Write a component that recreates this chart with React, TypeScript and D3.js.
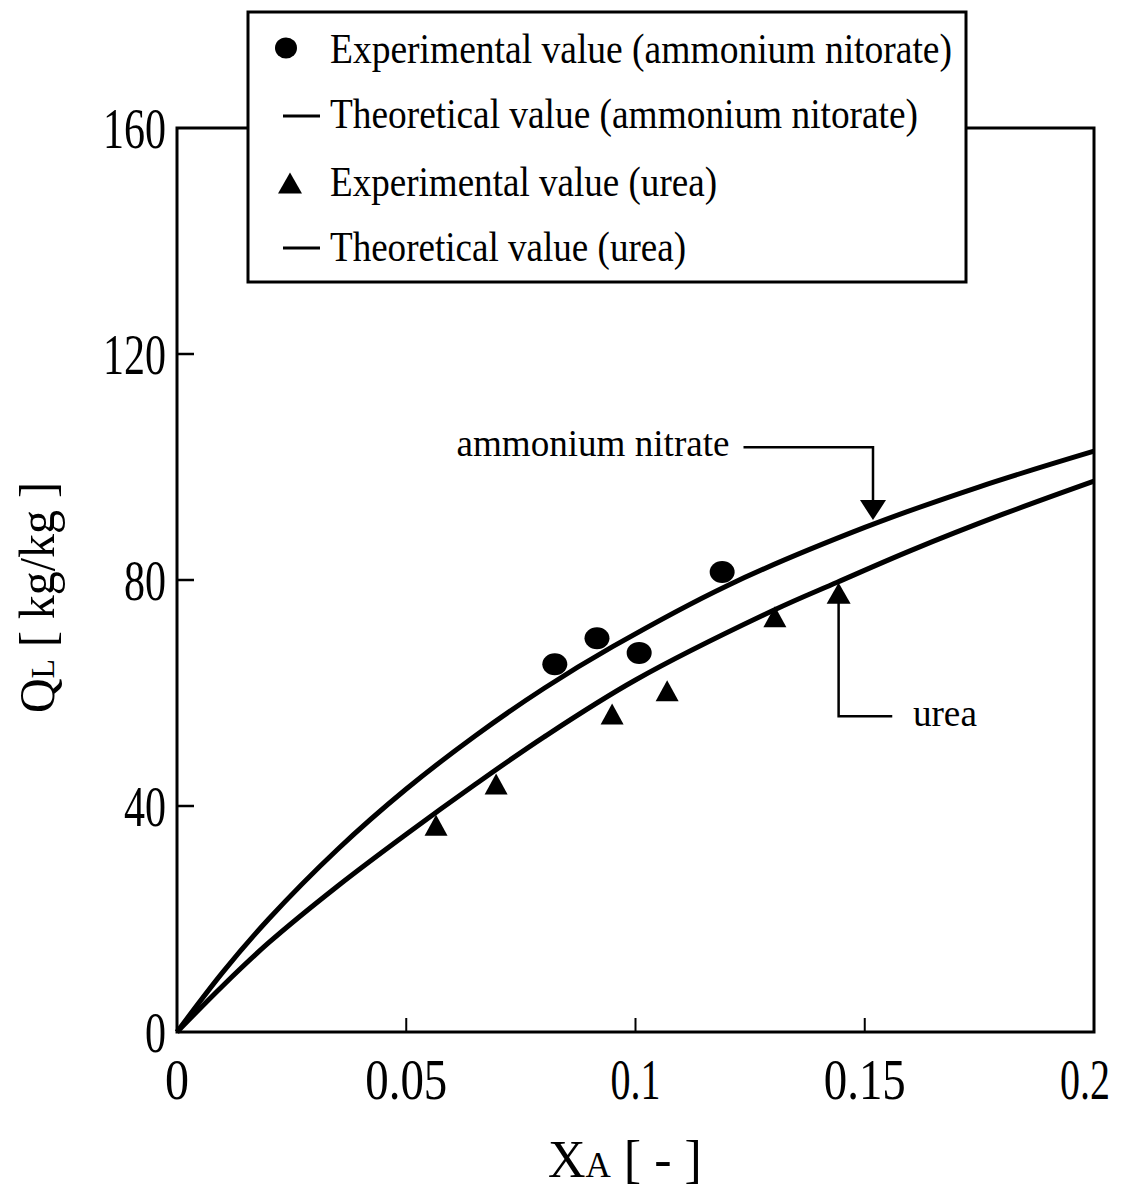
import React from "react";
import * as d3 from "d3";

const xTickValues = [0, 0.05, 0.1, 0.15, 0.2];
const xTickLabels = ["0", "0.05", "0.1", "0.15", "0.2"];
const yTickValues = [0, 40, 80, 120, 160];
const yTickLabels = ["0", "40", "80", "120", "160"];

const ammoniumExpX = [0.0824, 0.0916, 0.1008, 0.1189];
const ammoniumExpY = [65.1, 69.7, 67.1, 81.4];
const ureaExpX = [0.0565, 0.0696, 0.0949, 0.1069, 0.1304];
const ureaExpY = [36.6, 43.9, 56.3, 60.4, 73.5];

const ammoniumTheoX = [0, 0.01, 0.02, 0.035, 0.05, 0.065, 0.08, 0.095, 0.12, 0.15, 0.175, 0.2];
const ammoniumTheoY = [0, 10.6, 20, 32.3, 43, 52.4, 60.8, 68.2, 79, 89.3, 96.5, 102.8];
const ureaTheoX = [0, 0.01, 0.02, 0.035, 0.05, 0.065, 0.08, 0.1, 0.13, 0.144, 0.16, 0.18, 0.2];
const ureaTheoY = [0, 8.2, 15.8, 25.8, 35, 43.8, 52.2, 62.3, 74.6, 79.6, 85.2, 91.6, 97.5];

const legendLabels = [
  "Experimental value (ammonium nitorate)",
  "Theoretical value (ammonium nitorate)",
  "Experimental value (urea)",
  "Theoretical value (urea)",
];
const legendWidths = [622, 588, 387, 356];

const W = 1125;
const H = 1192;
const FONT = "'Liberation Serif', 'Times New Roman', serif";

export default function App() {
  const x = d3.scaleLinear().domain([0, 0.2]).range([177, 1094]);
  const y = d3.scaleLinear().domain([0, 160]).range([1032, 128]);
  const line = d3
    .line<[number, number]>()
    .x((d) => x(d[0]))
    .y((d) => y(d[1]))
    .curve(d3.curveCatmullRom.alpha(0.5));
  const ammoniumPts: [number, number][] = ammoniumTheoX.map((v, i) => [v, ammoniumTheoY[i]]);
  const ureaPts: [number, number][] = ureaTheoX.map((v, i) => [v, ureaTheoY[i]]);

  const tri = (cx: number, cy: number, w: number, h: number) =>
    `M${cx},${cy - h / 2} L${cx + w / 2},${cy + h / 2} L${cx - w / 2},${cy + h / 2} Z`;

  const anTip = { x: 0.1518, y: 90.6 };
  const anLineY = 103.5;
  const anTextEnd = 0.1205;
  const urTip = { x: 0.1443, y: 79.5 };
  const urElbowY = 55.9;
  const urLineEnd = 0.156;
  const urText = 0.1605;

  const x0 = x(0), x1 = x(0.2), y0 = y(0), y1 = y(160);
  const legL = 248, legT = 12, legR = 966, legB = 282;
  const rowBase = [63, 128, 196, 261];
  const rowMid = [48, 116, 183, 248];

  const anTipPx = { x: x(anTip.x), y: y(anTip.y) };
  const urTipPx = { x: x(urTip.x), y: y(urTip.y) };

  const xLabelWidth = (s: string) => (s.length === 1 ? 24 : s.length === 3 ? 50 : 82);

  return (
    <svg width={W} height={H} style={{ position: "absolute", left: 0, top: 0, background: "#fff" }} fontFamily={FONT}>
      <rect x={0} y={0} width={W} height={H} fill="#fff" />
      <rect x={x0} y={y1} width={x1 - x0} height={y0 - y1} fill="none" stroke="#000" strokeWidth={3} />
      {xTickValues.slice(1, -1).map((v) => (
        <line key={"xt" + v} x1={x(v)} x2={x(v)} y1={y0} y2={y0 - 14} stroke="#000" strokeWidth={2} />
      ))}
      {yTickValues.slice(1, -1).map((v) => (
        <line key={"yt" + v} x1={x0} x2={x0 + 17} y1={y(v)} y2={y(v)} stroke="#000" strokeWidth={2.5} />
      ))}
      {xTickValues.map((v, i) => (
        <text key={"xl" + v} x={i === xTickValues.length - 1 ? x(v) - 9 : x(v)} y={1099} fontSize={56} textAnchor="middle"
          textLength={xLabelWidth(xTickLabels[i])} lengthAdjust="spacingAndGlyphs">
          {xTickLabels[i]}
        </text>
      ))}
      {yTickValues.map((v, i) => (
        <text key={"yl" + v} x={166} y={y(v) + 20} fontSize={56} textAnchor="end"
          textLength={yTickLabels[i].length * 21} lengthAdjust="spacingAndGlyphs">
          {yTickLabels[i]}
        </text>
      ))}
      <text x={548} y={1177} fontSize={52}>
        X<tspan fontSize={35}>A</tspan> [ - ]
      </text>
      <text transform={`translate(54,713) rotate(-90)`} fontSize={50} textLength={231} lengthAdjust="spacingAndGlyphs">
        Q<tspan fontSize={33}>L</tspan> [ kg/kg ]
      </text>
      <path d={line(ammoniumPts) || ""} fill="none" stroke="#000" strokeWidth={5} />
      <path d={line(ureaPts) || ""} fill="none" stroke="#000" strokeWidth={5} />
      {ammoniumExpX.map((v, i) => (
        <ellipse key={"c" + i} cx={x(v)} cy={y(ammoniumExpY[i])} rx={12.5} ry={11} fill="#000" />
      ))}
      {ureaExpX.map((v, i) => (
        <path key={"t" + i} d={tri(x(v), y(ureaExpY[i]), 23, 21)} fill="#000" />
      ))}
      <text x={x(anTextEnd)} y={456} fontSize={38} textAnchor="end" textLength={273} lengthAdjust="spacingAndGlyphs">
        ammonium nitrate
      </text>
      <polyline
        points={`${x(anTextEnd) + 14},${y(anLineY)} ${anTipPx.x},${y(anLineY)} ${anTipPx.x},${anTipPx.y - 18}`}
        fill="none" stroke="#000" strokeWidth={2.5}
      />
      <path d={`M${anTipPx.x - 13},${anTipPx.y - 20} L${anTipPx.x + 13},${anTipPx.y - 20} L${anTipPx.x},${anTipPx.y} Z`} fill="#000" />
      <path d={`M${urTipPx.x - 12},${urTipPx.y + 21} L${urTipPx.x + 12},${urTipPx.y + 21} L${urTipPx.x},${urTipPx.y} Z`} fill="#000" />
      <polyline
        points={`${urTipPx.x},${urTipPx.y + 19} ${urTipPx.x},${y(urElbowY)} ${x(urLineEnd)},${y(urElbowY)}`}
        fill="none" stroke="#000" strokeWidth={2.5}
      />
      <text x={x(urText)} y={y(urElbowY) + 10} fontSize={38} textLength={64} lengthAdjust="spacingAndGlyphs">
        urea
      </text>
      <rect x={legL} y={legT} width={legR - legL} height={legB - legT} fill="#fff" stroke="#000" strokeWidth={3} />
      <ellipse cx={286} cy={rowMid[0]} rx={11} ry={10.5} fill="#000" />
      <line x1={283} x2={320} y1={rowMid[1]} y2={rowMid[1]} stroke="#000" strokeWidth={3} />
      <path d={tri(290, rowMid[2], 24, 21)} fill="#000" />
      <line x1={283} x2={320} y1={rowMid[3]} y2={rowMid[3]} stroke="#000" strokeWidth={3} />
      {legendLabels.map((t, i) => (
        <text key={"lg" + i} x={330} y={rowBase[i]} fontSize={43} textLength={legendWidths[i]} lengthAdjust="spacingAndGlyphs">
          {t}
        </text>
      ))}
    </svg>
  );
}
